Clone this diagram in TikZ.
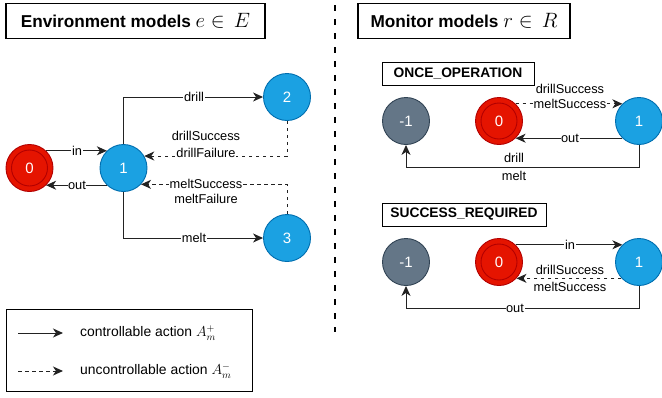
\documentclass[tikz,border=0pt]{standalone}
\usepackage{fontspec}
\setmainfont{Liberation Sans}
\usetikzlibrary{arrows.meta,calc}

\definecolor{redfill}{HTML}{E51400}
\definecolor{redline}{HTML}{B20000}
\definecolor{bluefill}{HTML}{1BA1E2}
\definecolor{blueline}{HTML}{006EAF}
\definecolor{grayfill}{HTML}{647687}
\definecolor{grayline}{HTML}{314354}
\definecolor{edgecol}{HTML}{222222}

\newcommand{\bigmath}[1]{{\fontsize{21.5}{24}\selectfont$#1$}}

\tikzset{
  state/.style={circle, minimum size=47pt, inner sep=0pt, line width=0.9pt,
    text=white, font=\fontsize{15}{17}\selectfont},
  initstate/.style={state, fill=redfill, draw=redline},
  opstate/.style={state, fill=bluefill, draw=blueline},
  sinkstate/.style={state, fill=grayfill, draw=grayline},
  innerring/.style={draw=redline, line width=0.9pt},
  ctrl/.style={draw=edgecol, line width=1pt, -{Stealth[length=10pt,width=9pt,inset=3pt]}},
  unctrl/.style={ctrl, dash pattern=on 3.5pt off 3.5pt},
  lbl/.style={fill=white, inner sep=0.6pt, font=\fontsize{12.8}{14}\selectfont},
  txt/.style={inner sep=0pt, font=\fontsize{12.8}{14}\selectfont},
  titlebox/.style={draw, line width=1.6pt, minimum height=35pt, inner sep=0pt,
    font=\bfseries\fontsize{17.2}{20}\selectfont},
  namebox/.style={draw, line width=1pt, minimum height=23pt, inner sep=0pt,
    font=\bfseries\fontsize{13.8}{16}\selectfont},
}

\begin{document}
\begin{tikzpicture}[x=1pt, y=-1pt]
\useasboundingbox (0,0) rectangle (662,397);

% ---------- titles and divider ----------
\node[titlebox, minimum width=259pt] (envtitle) at (135.5,21) {Environment models \bigmath{e\in\,E}};
\node[titlebox, minimum width=212pt] (montitle) at (464,21) {Monitor models \bigmath{r\in\,R}};
\draw[line width=2pt, dash pattern=on 6pt off 8pt] (334.5,5) -- (334.5,332);

% ---------- environment model ----------
\node[initstate] (e0) at (29.5,168) {0};
\draw[innerring] (e0.center) circle (18pt);
\node[opstate] (e1) at (123.5,168) {1};
\node[opstate] (e2) at (287,97) {2};
\node[opstate] (e3) at (287,238) {3};

\draw[ctrl] (e0.46) -- (e1.134);
\draw[ctrl] (e1.-134) -- (e0.-46);
\draw[ctrl] (e1.north) |- (e2.west);
\draw[ctrl] (e1.south) |- (e3.west);
\draw[unctrl] (e2.south) |- (e1.30);
\draw[unctrl] (e3.north) |- (e1.-43);

\node[lbl] (lin) at (77,151) {in};
\node[lbl] (lout) at (77,185) {out};
\node[lbl] (ldrill) at (194,97) {drill};
\node[lbl] (lmelt) at (194,238) {melt};
\node[lbl] (ldsucc) at (206,136) {drillSuccess};
\node[lbl] (ldfail) at (206,153) {drillFailure};
\node[lbl] (lmsucc) at (206,184) {meltSuccess};
\node[lbl] (lmfail) at (206,199) {meltFailure};

% ---------- monitor: ONCE_OPERATION ----------
\node[namebox, minimum width=152pt] (oname) at (458,74) {ONCE\_OPERATION};
\node[sinkstate] (om) at (406,121) {-1};
\node[initstate] (o0) at (499,121) {0};
\draw[innerring] (o0.center) circle (18pt);
\node[opstate] (o1) at (639,121) {1};

\draw[unctrl] (o0.46) -- (o1.134);
\draw[ctrl] (o1.-134) -- (o0.-46);
\draw[ctrl] (o1.south) -- ++(0,23) -| (om.south);

\node[lbl] (odsucc) at (570,89) {drillSuccess};
\node[lbl] (omsucc) at (570,104) {meltSuccess};
\node[lbl] (oout) at (570,138) {out};
\node[lbl] (odrill) at (514,158) {drill};
\node[lbl] (omelt) at (514,176) {melt};

% ---------- monitor: SUCCESS_REQUIRED ----------
\node[namebox, minimum width=164pt] (sname) at (464,214.5) {SUCCESS\_REQUIRED};
\node[sinkstate] (sm) at (406,262) {-1};
\node[initstate] (s0) at (499,262) {0};
\draw[innerring] (s0.center) circle (18pt);
\node[opstate] (s1) at (639,262) {1};

\draw[ctrl] (s0.46) -- (s1.134);
\draw[unctrl] (s1.-137) -- (s0.-43);
\draw[ctrl] (s1.south) -- ++(0,23) -| (sm.south);

\node[lbl] (sin) at (570,245) {in};
\node[lbl] (sdsucc) at (570,270) {drillSuccess};
\node[lbl] (smsucc) at (570,287) {meltSuccess};
\node[lbl] (sout) at (515,308) {out};

% ---------- legend ----------
\node[draw, line width=1pt, minimum width=246pt, minimum height=82pt, inner sep=0pt] (legend) at (129,350) {};
\coordinate (c1a) at (18,333);
\coordinate (c1b) at (63,333);
\coordinate (c2a) at (18,371);
\coordinate (c2b) at (63,371);
\draw[ctrl] (c1a) -- (c1b);
\draw[unctrl] (c2a) -- (c2b);
\node[txt, anchor=west, font=\fontsize{13.9}{16}\selectfont] (lgc) at (80,333) {controllable action $A_m^+$};
\node[txt, anchor=west, font=\fontsize{13.9}{16}\selectfont] (lgu) at (80,371) {uncontrollable action $A_m^-$};
\end{tikzpicture}
\end{document}
